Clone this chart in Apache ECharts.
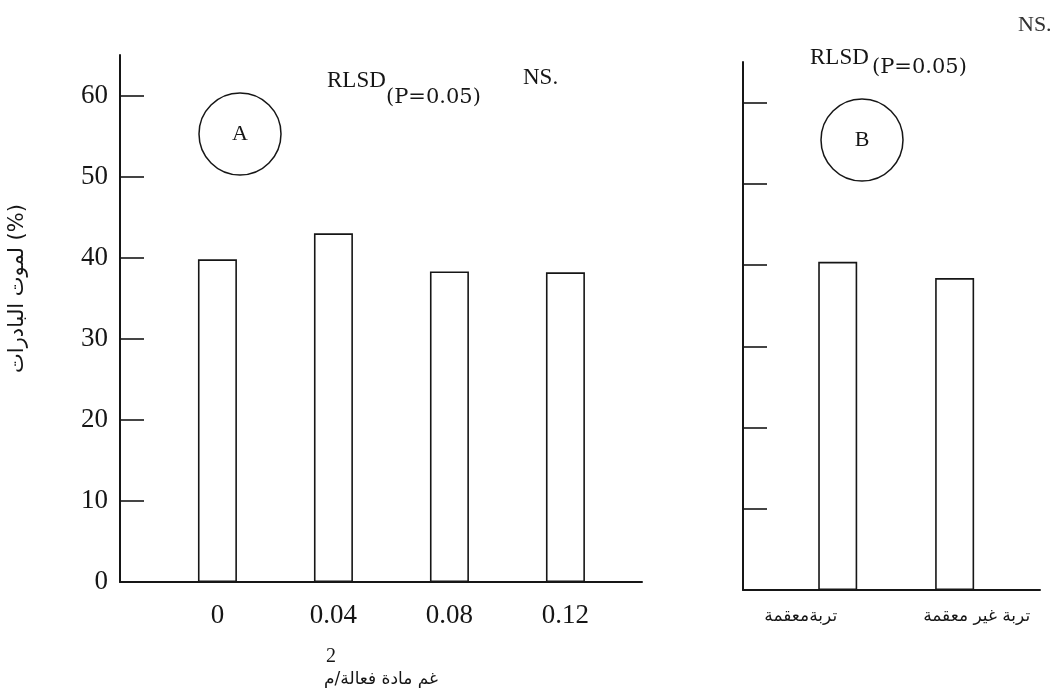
<!DOCTYPE html>
<html>
<head>
<meta charset="utf-8">
<script src="https://cdn.jsdelivr.net/npm/echarts@6/dist/echarts.min.js"></script>
<style>
  html, body { margin: 0; background: #fff; }
  #chart { width: 1063px; height: 700px; }
</style>
</head>
<body>
<div id="chart"></div>
<script>
// 数据
const doses = ['0', '0.04', '0.08', '0.12']
const deathA = [39.8, 43.0, 38.3, 38.2]
const soils = ['تربةمعقمة', 'تربة غير معقمة']
const deathB = [40.4, 38.4]
const yLabels = [0, 10, 20, 30, 40, 50, 60]
const yTicks = [10, 20, 30, 40, 50, 60]

const ink = '#161616'
const serif = 'Liberation Serif'
const arabic = 'DejaVu Sans'

let myEcharts = echarts.init(document.getElementById('chart'))

const barStyle = {
  color: '#fff',
  borderColor: ink,
  borderWidth: 1.6
}

const options = {
  backgroundColor: '#fff',
  animation: false,
  grid: [
    { left: 120, right: 421, top: 55, bottom: 118 },
    { left: 743, right: 23, top: 62, bottom: 110 }
  ],
  xAxis: [
    {
      // A 图：用量
      gridIndex: 0,
      type: 'value',
      min: -0.84,
      max: 3.66,
      splitLine: { show: false },
      axisTick: { show: false },
      axisLine: { onZero: false, lineStyle: { color: ink, width: 2 } },
      axisLabel: {
        customValues: [0, 1, 2, 3],
        formatter: v => doses[v],
        color: ink,
        fontFamily: serif,
        fontSize: 27,
        margin: 20
      },
      name: '{sup|2}\n{t|غم مادة فعالة/م}',
      nameLocation: 'middle',
      nameGap: 64,
      nameTextStyle: {
        rich: {
          sup: { fontFamily: serif, fontSize: 20, color: ink, align: 'left', lineHeight: 22, padding: [0, 0, 0, 2] },
          t: { fontFamily: arabic, fontSize: 17, color: ink, lineHeight: 24 }
        }
      }
    },
    {
      // B 图：土壤
      gridIndex: 1,
      type: 'value',
      min: -0.81,
      max: 1.73,
      splitLine: { show: false },
      axisTick: { show: false },
      axisLine: { onZero: false, lineStyle: { color: ink, width: 2 } },
      axisLabel: {
        customValues: [0, 1],
        formatter: v => (v === 0 ? '{l|' : '{r|') + soils[v] + '}',
        margin: 18,
        rich: {
          l: { fontFamily: arabic, fontSize: 17, color: ink, padding: [0, 74, 0, 0] },
          r: { fontFamily: arabic, fontSize: 17, color: ink, padding: [0, 0, 0, 44] }
        }
      }
    }
  ],
  yAxis: [
    {
      gridIndex: 0,
      type: 'value',
      min: 0,
      max: 65,
      splitLine: { show: false },
      axisLine: { show: true, onZero: false, lineStyle: { color: ink, width: 2 } },
      axisTick: {
        show: true,
        inside: true,
        length: 24,
        customValues: yTicks,
        lineStyle: { color: ink, width: 1.6 }
      },
      axisLabel: {
        customValues: yLabels,
        color: ink,
        fontFamily: serif,
        fontSize: 27,
        margin: 12
      },
      name: 'لموت البادرات (%)',
      nameLocation: 'middle',
      nameRotate: 90,
      nameGap: 92,
      nameTextStyle: {
        fontFamily: arabic,
        fontSize: 21,
        color: ink,
        padding: [0, 0, 0, 60]
      }
    },
    {
      gridIndex: 1,
      type: 'value',
      min: 0,
      max: 65,
      splitLine: { show: false },
      axisLine: { show: true, onZero: false, lineStyle: { color: ink, width: 2 } },
      axisTick: {
        show: true,
        inside: true,
        length: 24,
        customValues: yTicks,
        lineStyle: { color: ink, width: 1.6 }
      },
      axisLabel: { show: false }
    }
  ],
  series: [
    {
      type: 'bar',
      xAxisIndex: 0,
      yAxisIndex: 0,
      barWidth: 39,
      data: deathA.map((v, i) => [i, v]),
      itemStyle: barStyle
    },
    {
      type: 'bar',
      xAxisIndex: 1,
      yAxisIndex: 1,
      barWidth: 39,
      data: deathB.map((v, i) => [i, v]),
      itemStyle: barStyle
    }
  ],
  graphic: [
    // 圆圈标记
    { type: 'circle', shape: { cx: 240, cy: 134, r: 41 }, style: { fill: null, stroke: ink, lineWidth: 1.5 } },
    { type: 'text', x: 240, y: 134, style: { text: 'A', fontFamily: serif, fontSize: 22, fill: ink, align: 'center', verticalAlign: 'middle' } },
    { type: 'circle', shape: { cx: 862, cy: 140, r: 41 }, style: { fill: null, stroke: ink, lineWidth: 1.5 } },
    { type: 'text', x: 862, y: 140, style: { text: 'B', fontFamily: serif, fontSize: 22, fill: ink, align: 'center', verticalAlign: 'middle' } },
    // RLSD 注释
    { type: 'text', x: 327, y: 81, style: { text: 'RLSD', fontFamily: serif, fontSize: 23, fill: ink, verticalAlign: 'middle' } },
    { type: 'text', x: 386, y: 98, style: { text: '(P=0.05)', fontFamily: 'DejaVu Serif', fontSize: 21, fill: ink, verticalAlign: 'middle' } },
    { type: 'text', x: 523, y: 78, style: { text: 'NS.', fontFamily: serif, fontSize: 23, fill: ink, verticalAlign: 'middle' } },
    { type: 'text', x: 810, y: 58, style: { text: 'RLSD', fontFamily: serif, fontSize: 23, fill: ink, verticalAlign: 'middle' } },
    { type: 'text', x: 872, y: 68, style: { text: '(P=0.05)', fontFamily: 'DejaVu Serif', fontSize: 21, fill: ink, verticalAlign: 'middle' } },
    { type: 'text', x: 1018, y: 25, style: { text: 'NS.', fontFamily: serif, fontSize: 22, fill: '#333', verticalAlign: 'middle' } }
  ]
}
options && myEcharts.setOption(options)
</script>
</body>
</html>
